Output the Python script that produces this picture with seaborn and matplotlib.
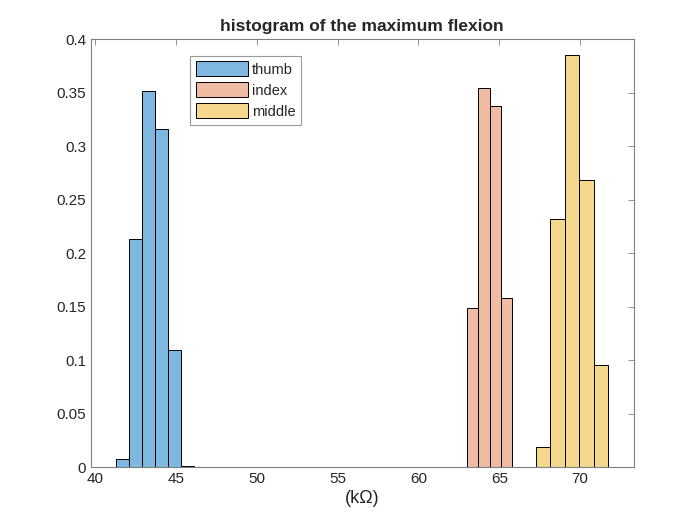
import matplotlib
matplotlib.use("Agg")
import matplotlib.pyplot as plt
import seaborn as sns
import numpy as np
import pandas as pd
from matplotlib.patches import Patch
from matplotlib.ticker import FuncFormatter

sns.set_style("white")
plt.rcParams['font.family'] = ['Liberation Sans', 'DejaVu Sans']

# bin edges and probabilities
thumb_edges = [41.3, 42.1, 42.9, 43.7, 44.5, 45.3, 46.1]
thumb_prob = [0.008, 0.213, 0.352, 0.316, 0.110, 0.0015]
index_edges = [63.0, 63.7, 64.4, 65.1, 65.8]
index_prob = [0.149, 0.355, 0.338, 0.158]
middle_edges = [67.25, 68.15, 69.05, 69.95, 70.85, 71.75]
middle_prob = [0.019, 0.232, 0.385, 0.269, 0.096]

labels = ["thumb", "index", "middle"]
colors = ["#7EB7E0", "#F0BBA3", "#F5D78E"]
x_ticks = [40, 45, 50, 55, 60, 65, 70]
y_ticks = [0, 0.05, 0.1, 0.15, 0.2, 0.25, 0.3, 0.35, 0.4]

fig = plt.figure(figsize=(7, 5.25), dpi=100)
ax = fig.add_axes([0.13, 0.11, 0.775, 0.815])

series = [(thumb_edges, thumb_prob), (index_edges, index_prob), (middle_edges, middle_prob)]
for (edges, prob), lab, col in zip(series, labels, colors):
    e = np.array(edges)
    centers = (e[:-1] + e[1:]) / 2
    df = pd.DataFrame({"x": centers, "w": prob})
    sns.histplot(data=df, x="x", weights="w", bins=list(edges), stat="count",
                 color=col, alpha=1.0, edgecolor="black", linewidth=0.7, ax=ax)

ax.set_xlim(39.75, 73.3)
ax.set_ylim(0, 0.4)
ax.set_xticks(x_ticks)
ax.set_yticks(y_ticks)
ax.yaxis.set_major_formatter(FuncFormatter(lambda v, p: f"{v:g}"))
ax.set_ylabel("")
ax.set_xlabel("(kΩ)", fontsize=13, color="#262626", labelpad=3)
ax.set_title("histogram of the maximum flexion", fontsize=12.5, fontweight="bold", pad=6)

for s in ax.spines.values():
    s.set_color("#808080")
    s.set_linewidth(0.8)
ax.tick_params(direction="in", top=True, right=True, length=4, width=0.6,
               color="#808080", labelsize=11, labelcolor="#262626")

handles = [Patch(facecolor=c, edgecolor="black", linewidth=0.7) for c in colors]
leg = ax.legend(handles, labels, loc="upper left", bbox_to_anchor=(0.182, 0.962),
                fontsize=10.5, frameon=True, fancybox=False, edgecolor="#808080",
                handlelength=3.6, handleheight=1.2, labelspacing=0.38,
                borderpad=0.4, handletextpad=0.25, borderaxespad=0)
leg.get_frame().set_linewidth(0.8)

fig.savefig("out.png", dpi=100)
